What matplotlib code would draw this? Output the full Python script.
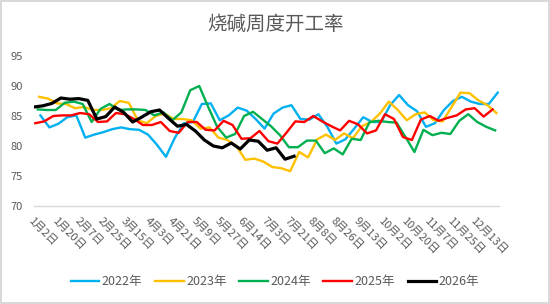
import datetime

import matplotlib
matplotlib.use('Agg')
import matplotlib.pyplot as plt

plt.rcParams['font.family'] = ['Noto Sans CJK SC', 'DejaVu Sans']

# weekly (Friday) operating rate, first Friday of each year
start_days = {'2022年': 7, '2023年': 6, '2024年': 5, '2025年': 3, '2026年': 2}

y2022 = [85.1, 83.1, 83.7, 84.8, 85.1, 81.4, 81.9, 82.3, 82.8, 83.1, 82.8, 82.7, 81.9,
         80.2, 78.2, 81.4, 83.8, 84.0, 87.0, 87.1, 84.3, 85.1, 86.4, 85.9, 84.5, 82.9,
         85.4, 86.4, 86.8, 84.5, 84.4, 85.3, 83.2, 80.4, 81.1, 82.9, 84.8, 84.0, 84.0,
         86.8, 88.5, 86.8, 85.8, 83.2, 83.8, 86.0, 87.5, 88.2, 87.4, 87.0, 87.0, 88.9]
y2023 = [88.2, 87.9, 87.1, 87.0, 86.3, 86.5, 86.0, 86.0, 86.3, 87.5, 87.2, 84.3, 83.8,
         85.0, 85.4, 84.5, 84.5, 84.3, 82.9, 83.1, 81.4, 81.0, 80.0, 77.7, 77.9, 77.4,
         76.5, 76.3, 75.8, 79.0, 78.1, 81.1, 81.9, 81.0, 82.1, 81.3, 83.3, 84.0, 85.4,
         87.4, 86.0, 84.3, 85.3, 85.6, 84.3, 84.1, 86.5, 88.9, 88.8, 87.6, 86.8, 85.5]
y2024 = [86.1, 86.0, 86.0, 87.2, 87.4, 87.0, 84.0, 86.2, 87.0, 86.0, 86.1, 86.1, 86.0,
         85.1, 85.6, 84.3, 85.6, 89.3, 90.0, 86.5, 83.2, 81.4, 82.0, 85.0, 85.7, 84.5,
         83.3, 81.8, 79.8, 79.8, 80.9, 80.9, 78.8, 79.6, 78.6, 81.2, 81.0, 84.0, 84.2,
         84.0, 83.9, 81.5, 79.0, 82.7, 81.8, 82.2, 82.0, 84.2, 85.3, 84.0, 83.2, 82.6]
y2025 = [83.8, 84.1, 85.0, 85.1, 85.1, 85.5, 85.3, 84.0, 84.1, 85.5, 85.3, 84.5, 83.5,
         83.5, 84.0, 82.5, 82.2, 84.0, 84.0, 82.7, 82.6, 84.2, 83.5, 81.2, 81.3, 82.5,
         80.8, 80.4, 82.2, 84.1, 84.0, 85.0, 84.1, 83.3, 82.6, 84.2, 83.6, 82.1, 82.6,
         85.3, 84.5, 81.5, 81.0, 84.4, 85.0, 84.2, 84.7, 85.1, 86.1, 86.3, 84.9, 86.1]
y2026 = [86.5, 86.7, 87.1, 88.0, 87.8, 87.9, 87.6, 84.5, 84.9, 86.5, 85.6, 84.0, 84.8,
         85.7, 86.0, 84.6, 83.3, 83.6, 82.5, 81.0, 80.0, 79.7, 80.5, 79.5, 81.0, 80.8,
         79.3, 79.7, 77.8, 78.3]

tick_labels = ['1月2日', '1月20日', '2月7日', '2月25日', '3月15日', '4月3日', '4月21日',
               '5月9日', '5月27日', '6月14日', '7月3日', '7月21日', '8月8日', '8月26日',
               '9月13日', '10月2日', '10月20日', '11月7日', '11月25日', '12月13日']

series = {'2022年': y2022, '2023年': y2023, '2024年': y2024, '2025年': y2025, '2026年': y2026}
colors = {'2022年': '#00B0F0', '2023年': '#FFC000', '2024年': '#00B050',
          '2025年': '#FF0000', '2026年': '#000000'}


def day_of_year(label):
    m, d = label.replace('日', '').split('月')
    return datetime.date(2022, int(m), int(d)).timetuple().tm_yday


fig = plt.figure(figsize=(5.5, 3.04), dpi=100)
fig.patch.set_edgecolor('#D9D9D9')
fig.patch.set_linewidth(1.5)
ax = fig.add_axes([34 / 550, 1 - 206 / 304, 465 / 550, 150 / 304])

for name, vals in series.items():
    x = [start_days[name] + 7 * i for i in range(len(vals))]
    lw = 2.3 if name == '2026年' else 1.7
    ax.plot(x, vals, color=colors[name], lw=lw, label=name, solid_joinstyle='round')

ax.set_xlim(2, 365)
ax.set_ylim(70, 95)
ax.set_yticks(range(70, 96, 5))
ax.set_xticks([day_of_year(t) for t in tick_labels])
ax.set_xticklabels(tick_labels, rotation=-45, ha='left', va='top', rotation_mode='anchor',
                   fontsize=9.5)

for s in ['top', 'right', 'left']:
    ax.spines[s].set_visible(False)
ax.spines['bottom'].set_color('#D9D9D9')
ax.spines['bottom'].set_linewidth(1.0)
ax.tick_params(axis='both', length=0, colors='#595959', labelsize=8)
ax.tick_params(axis='y', pad=8)
ax.tick_params(axis='x', pad=7)

fig.text(0.5, 1 - 24.5 / 304, '烧碱周度开工率', ha='center', va='center',
         fontsize=14, color='#595959')

fig.legend(loc='center', bbox_to_anchor=(0.5, 1 - 282 / 304), ncol=5, frameon=False,
           fontsize=9, labelcolor='#595959', handlelength=2.3, columnspacing=1.0,
           handletextpad=0.2)

fig.savefig('out.png', dpi=100)
